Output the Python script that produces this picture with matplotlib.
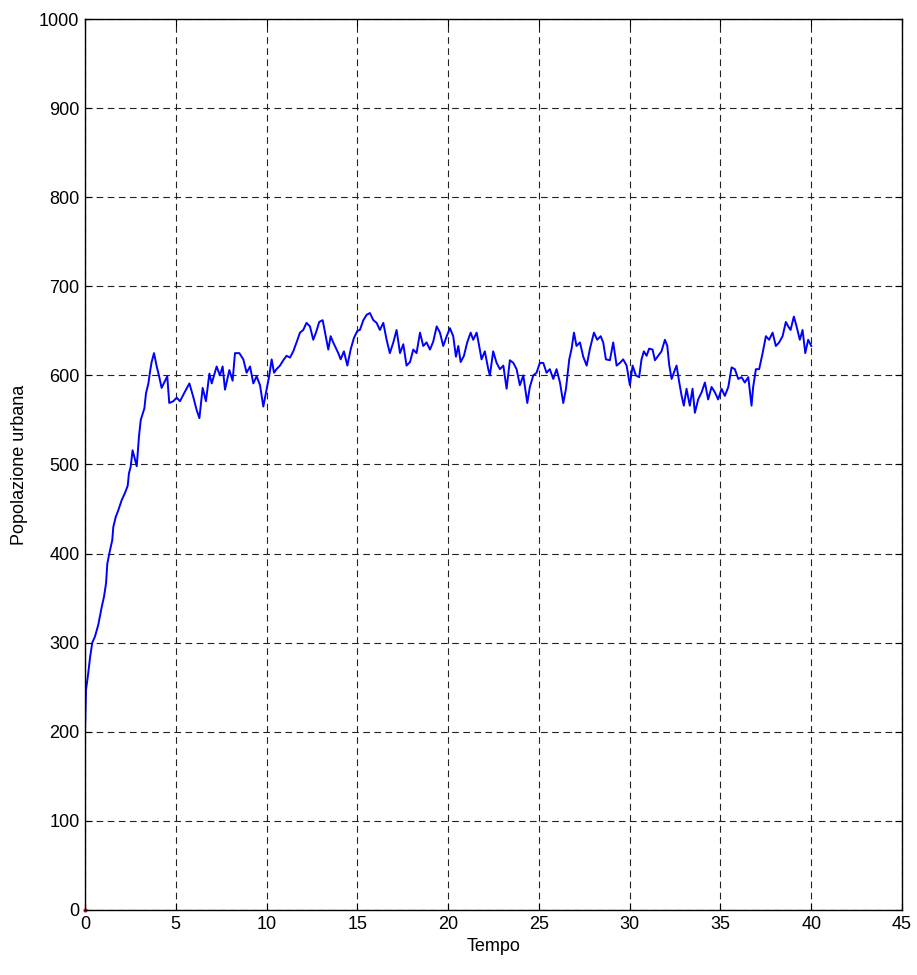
import matplotlib.pyplot as plt

# Urban population over time
tempo = [0.0, 0.055, 0.18, 0.275, 0.40, 0.55, 0.73, 0.92, 1.05, 1.16, 1.23, 1.38,
         1.50, 1.56, 1.69, 1.84, 2.02, 2.20, 2.35, 2.42, 2.52, 2.62, 2.72, 2.85,
         2.97, 3.07, 3.18, 3.27, 3.36, 3.49, 3.58, 3.67, 3.80, 3.95, 4.07, 4.22,
         4.41, 4.53, 4.64, 4.86, 5.05, 5.23, 5.51, 5.75, 5.96, 6.15, 6.30, 6.48,
         6.66, 6.85, 6.98, 7.25, 7.43, 7.58, 7.71, 7.95, 8.13, 8.26, 8.50, 8.72,
         8.90, 9.09, 9.27, 9.45, 9.64, 9.82, 10.0, 10.15, 10.28, 10.41, 10.55,
         10.74, 10.92, 11.10, 11.29, 11.47, 11.65, 11.84, 12.02, 12.20, 12.39,
         12.57, 12.72, 12.90, 13.09, 13.22, 13.40, 13.53, 13.67, 13.95, 14.08,
         14.26, 14.45, 14.63, 14.81, 15.0, 15.14, 15.33, 15.51, 15.69, 15.88,
         16.06, 16.24, 16.43, 16.61, 16.79, 16.98, 17.16, 17.35, 17.53, 17.71,
         17.90, 18.08, 18.26, 18.45, 18.63, 18.81, 19.0, 19.18, 19.37, 19.55,
         19.73, 19.92, 20.10, 20.28, 20.43, 20.56, 20.69, 20.87, 21.05, 21.24,
         21.38, 21.57, 21.71, 21.84, 22.02, 22.21, 22.30, 22.48, 22.67, 22.85,
         23.04, 23.22, 23.40, 23.59, 23.77, 23.95, 24.14, 24.36, 24.50, 24.69,
         24.87, 25.05, 25.24, 25.42, 25.60, 25.79, 25.97, 26.16, 26.34, 26.49,
         26.67, 26.80, 26.93, 27.07, 27.26, 27.44, 27.63, 27.81, 28.03, 28.21,
         28.40, 28.54, 28.69, 28.91, 29.09, 29.28, 29.46, 29.64, 29.83, 30.01,
         30.16, 30.34, 30.52, 30.65, 30.78, 30.93, 31.07, 31.26, 31.39, 31.57,
         31.75, 31.94, 32.07, 32.18, 32.31, 32.43, 32.58, 32.73, 32.86, 32.98,
         33.13, 33.31, 33.46, 33.59, 33.77, 33.96, 34.14, 34.32, 34.51, 34.69,
         34.87, 35.06, 35.24, 35.43, 35.61, 35.79, 35.98, 36.16, 36.34, 36.53,
         36.71, 36.80, 36.95, 37.13, 37.32, 37.50, 37.68, 37.87, 38.05, 38.23,
         38.42, 38.60, 38.73, 38.86, 39.04, 39.19, 39.37, 39.52, 39.67, 39.83,
         40.0]
popolazione = [200, 247, 266, 283, 300, 307, 320, 340, 352, 367, 389, 404,
               415, 430, 441, 449, 460, 468, 476, 490, 498, 516, 508, 498,
               531, 550, 557, 563, 580, 591, 604, 615, 625, 610, 600, 586,
               594, 599, 569, 571, 575, 571, 582, 591, 576, 561, 552, 586,
               571, 602, 591, 610, 600, 610, 584, 606, 594, 625, 625, 618,
               603, 610, 591, 599, 589, 565, 584, 600, 618, 603, 607,
               611, 617, 622, 620, 627, 637, 648, 651, 659, 655,
               640, 648, 660, 662, 648, 629, 644, 637, 625, 618,
               627, 611, 629, 642, 650, 651, 662, 668, 670, 662,
               659, 651, 659, 640, 625, 637, 651, 625, 635, 611,
               615, 629, 625, 648, 633, 637, 629, 638, 655, 648,
               633, 644, 653, 644, 621, 633, 615, 622, 637, 648,
               640, 648, 633, 618, 627, 607, 600, 627, 614, 607,
               611, 585, 617, 614, 607, 589, 600, 569, 587, 600,
               603, 614, 614, 603, 607, 596, 607, 592, 569, 585,
               618, 630, 648, 633, 637, 621, 611, 630, 648, 640,
               644, 637, 618, 617, 637, 611, 614, 618, 611, 589,
               611, 600, 598, 618, 627, 622, 630, 629, 617, 622,
               627, 640, 633, 611, 596, 603, 611, 592, 577, 566,
               585, 566, 585, 558, 573, 581, 592, 573, 587, 581,
               573, 585, 577, 587, 609, 607, 596, 598, 592, 598,
               566, 587, 607, 607, 625, 644, 640, 648, 633, 637,
               644, 660, 655, 651, 666, 655, 640, 651, 625, 640,
               633]

xticks = [0, 5, 10, 15, 20, 25, 30, 35, 40, 45]
yticks = [0, 100, 200, 300, 400, 500, 600, 700, 800, 900, 1000]

plt.rcParams['font.family'] = ['Liberation Sans', 'DejaVu Sans']

fig = plt.figure(figsize=(9.17, 9.75), dpi=100)
ax = fig.add_axes([0.0927, 0.0667, 0.891, 0.9138])

ax.plot(tempo, popolazione, color='blue', linewidth=1.4)
ax.plot([0], [0], color='red', marker='.', markersize=4, clip_on=False)

ax.set_xlim(0, 45)
ax.set_ylim(0, 1000)
ax.set_xticks(xticks)
ax.set_yticks(yticks)
ax.tick_params(direction='in', top=True, right=True, length=5, width=0.8,
               labelsize=13, colors='black', pad=4)
ax.grid(True, color='#222222', linestyle=(0, (6, 4)), linewidth=0.8)
for s in ax.spines.values():
    s.set_linewidth(1.0)

ax.set_xlabel('Tempo', fontsize=13, labelpad=4)
ax.set_ylabel('Popolazione urbana', fontsize=13, labelpad=8)

fig.savefig('out.png', dpi=100)
